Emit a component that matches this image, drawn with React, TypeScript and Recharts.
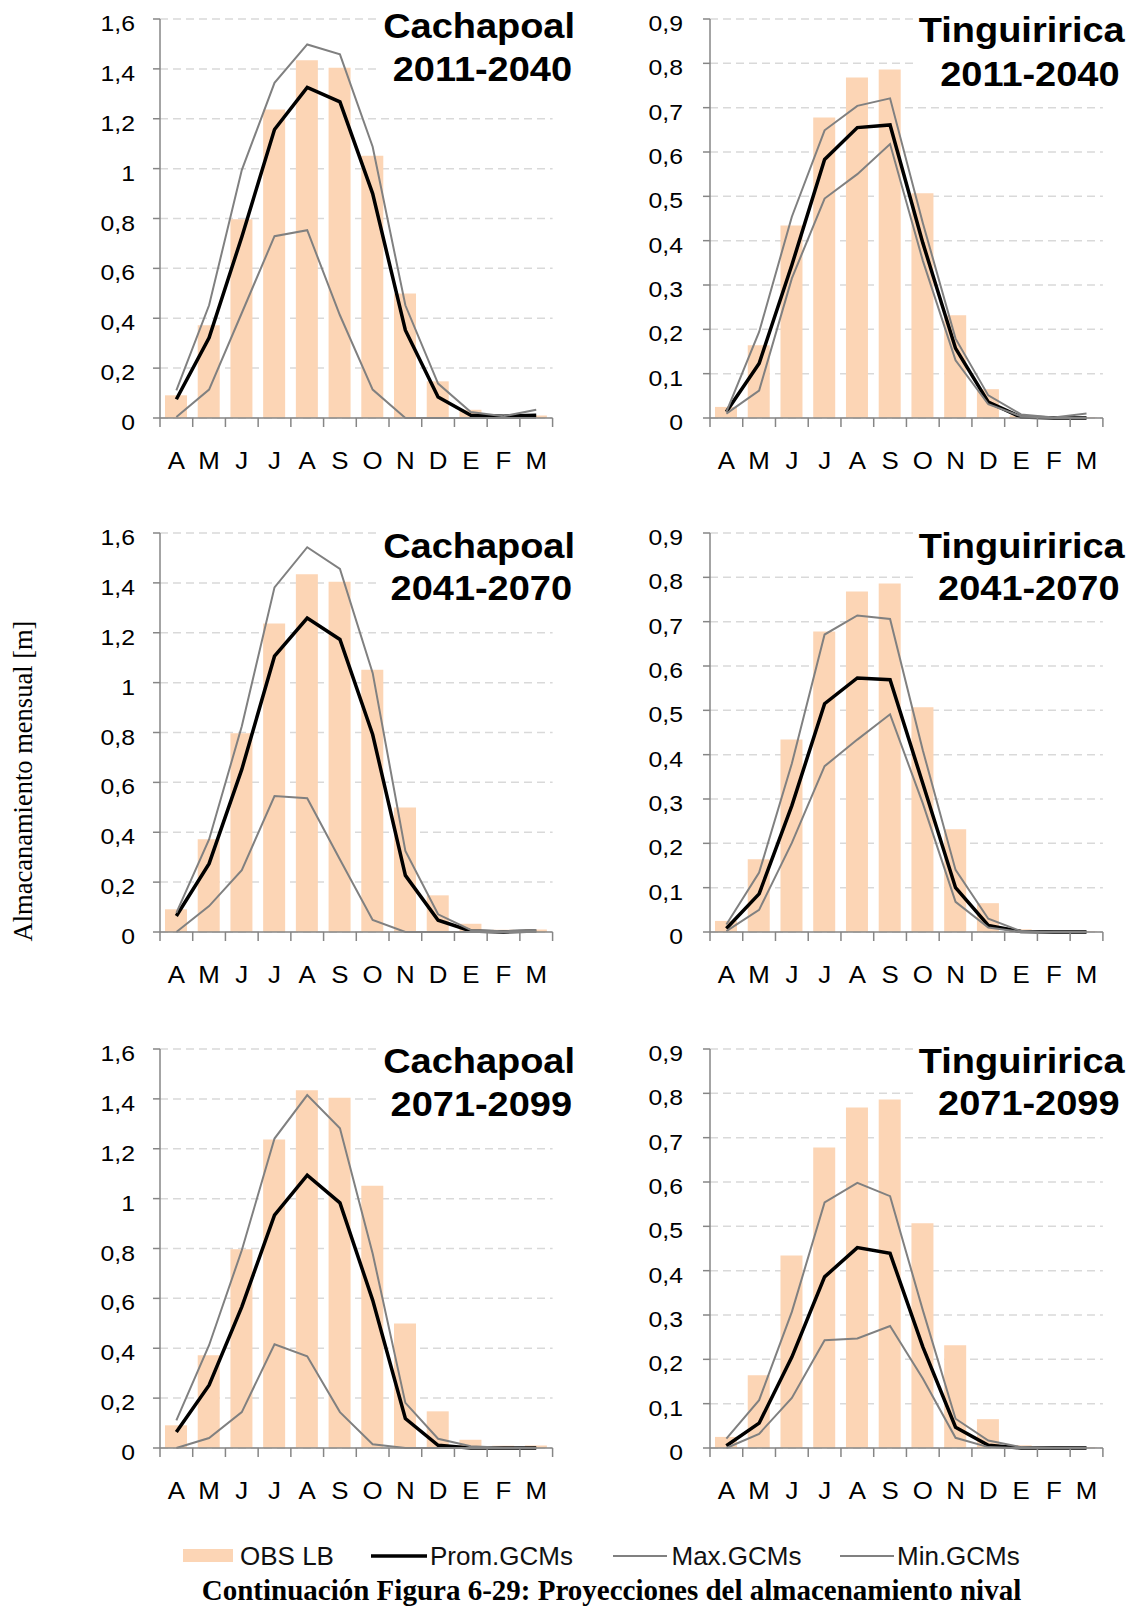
import React from 'react';
import { ComposedChart, Bar, Line, XAxis, YAxis, CartesianGrid } from 'recharts';

// ---------- data ----------
const months = ['A', 'M', 'J', 'J', 'A', 'S', 'O', 'N', 'D', 'E', 'F', 'M'];

const obsCachapoal = [0.091, 0.372, 0.797, 1.237, 1.435, 1.405, 1.052, 0.499, 0.147, 0.033, 0.009, 0.01];
const obsTinguiririca = [0.025, 0.164, 0.434, 0.678, 0.768, 0.786, 0.507, 0.232, 0.065, 0.006, 0.002, 0.001];

const promCach1 = [0.075, 0.322, 0.726, 1.157, 1.326, 1.268, 0.9, 0.352, 0.084, 0.011, 0.007, 0.011];
const maxCach1 = [0.111, 0.452, 0.994, 1.344, 1.498, 1.458, 1.088, 0.452, 0.138, 0.024, 0.007, 0.033];
const minCach1 = [0.004, 0.114, 0.421, 0.729, 0.753, 0.412, 0.114, 0, 0, 0, 0, 0];

const promTing1 = [0.014, 0.123, 0.345, 0.583, 0.655, 0.661, 0.395, 0.157, 0.036, 0.002, 0, 0];
const maxTing1 = [0.014, 0.194, 0.454, 0.649, 0.704, 0.721, 0.44, 0.179, 0.051, 0.008, 0.001, 0.01];
const minTing1 = [0.01, 0.062, 0.315, 0.495, 0.55, 0.618, 0.355, 0.13, 0.031, 0.004, 0, 0];

const promCach2 = [0.064, 0.274, 0.652, 1.106, 1.259, 1.173, 0.792, 0.227, 0.047, 0.004, 0, 0.004];
const maxCach2 = [0.077, 0.371, 0.825, 1.382, 1.543, 1.456, 1.039, 0.325, 0.071, 0.008, 0.003, 0.008];
const minCach2 = [0, 0.104, 0.248, 0.545, 0.536, 0.291, 0.048, 0, 0, 0, 0, 0];

const promTing2 = [0.008, 0.086, 0.285, 0.515, 0.573, 0.569, 0.335, 0.1, 0.015, 0.001, 0, 0];
const maxTing2 = [0.017, 0.134, 0.38, 0.671, 0.714, 0.706, 0.41, 0.14, 0.03, 0.002, 0, 0];
const minTing2 = [0.002, 0.05, 0.201, 0.374, 0.434, 0.491, 0.29, 0.068, 0.01, 0, 0, 0];

const promCach3 = [0.064, 0.252, 0.566, 0.934, 1.094, 0.983, 0.593, 0.118, 0.011, 0, 0, 0];
const maxCach3 = [0.111, 0.412, 0.793, 1.241, 1.415, 1.282, 0.78, 0.181, 0.037, 0.007, 0.001, 0];
const minCach3 = [0, 0.04, 0.144, 0.416, 0.368, 0.144, 0.015, 0, 0, 0, 0, 0];

const promTing3 = [0.005, 0.056, 0.205, 0.386, 0.452, 0.439, 0.228, 0.047, 0.006, 0, 0, 0];
const maxTing3 = [0.021, 0.108, 0.307, 0.554, 0.598, 0.568, 0.311, 0.066, 0.017, 0.002, 0, 0];
const minTing3 = [0, 0.032, 0.113, 0.243, 0.247, 0.275, 0.157, 0.023, 0.002, 0, 0, 0];

const cachTicks = [0, 0.2, 0.4, 0.6, 0.8, 1, 1.2, 1.4, 1.6];
const tingTicks = [0, 0.1, 0.2, 0.3, 0.4, 0.5, 0.6, 0.7, 0.8, 0.9];

const legendLabels = ['OBS LB', 'Prom.GCMs', 'Max.GCMs', 'Min.GCMs'];
const yAxisLabel = 'Almacanamiento mensual [m]';
const caption = 'Continuación Figura 6-29: Proyecciones del almacenamiento nival';

// ---------- style ----------
const FONT = "'Liberation Sans', Arial, sans-serif";
const SERIF = "'Liberation Serif', 'Times New Roman', serif";
const AXIS = '#868686';
const BAR = '#FCD5B5';
const GREY = '#808080';
const SX = 1.1; // horizontal stretch of chart text

const COLS = [
  { axisX: 160, plotW: 392.6, tickMargin: 18, titleEnd: 575, periodEnd: 572, titleW: 192 },
  { axisX: 709.9, plotW: 392.9, tickMargin: 20, titleEnd: 1124.7, periodEnd: 1119.5, titleW: 206 },
];
const ROW_TOPS = [19, 533.3, 1049];
const PLOT_H = 399;
const YW = 80;
const MT = 10;
const MR = 14;
const XH = 60;

type Cfg = {
  title: string; period: string; obs: number[]; prom: number[]; max: number[]; min: number[];
  yMax: number; ticks: number[]; col: number; row: number; b1: number; b2: number;
};

const panels: Cfg[] = [
  { title: 'Cachapoal', period: '2011-2040', obs: obsCachapoal, prom: promCach1, max: maxCach1, min: minCach1, yMax: 1.6, ticks: cachTicks, col: 0, row: 0, b1: 37.5, b2: 81 },
  { title: 'Tinguiririca', period: '2011-2040', obs: obsTinguiririca, prom: promTing1, max: maxTing1, min: minTing1, yMax: 0.9, ticks: tingTicks, col: 1, row: 0, b1: 42, b2: 86 },
  { title: 'Cachapoal', period: '2041-2070', obs: obsCachapoal, prom: promCach2, max: maxCach2, min: minCach2, yMax: 1.6, ticks: cachTicks, col: 0, row: 1, b1: 558, b2: 600 },
  { title: 'Tinguiririca', period: '2041-2070', obs: obsTinguiririca, prom: promTing2, max: maxTing2, min: minTing2, yMax: 0.9, ticks: tingTicks, col: 1, row: 1, b1: 558, b2: 600 },
  { title: 'Cachapoal', period: '2071-2099', obs: obsCachapoal, prom: promCach3, max: maxCach3, min: minCach3, yMax: 1.6, ticks: cachTicks, col: 0, row: 2, b1: 1073, b2: 1116 },
  { title: 'Tinguiririca', period: '2071-2099', obs: obsTinguiririca, prom: promTing3, max: maxTing3, min: minTing3, yMax: 0.9, ticks: tingTicks, col: 1, row: 2, b1: 1073, b2: 1115 },
];

const fmt = (v: number) => (v === 0 ? '0' : String(Number(v.toFixed(1))).replace('.', ','));

function SText(props: { x: number; y: number; anchor: 'start' | 'middle' | 'end'; size: number; bold?: boolean; children: React.ReactNode }) {
  return (
    <text
      transform={`translate(${props.x},${props.y}) scale(${SX},1)`}
      textAnchor={props.anchor}
      fontSize={props.size}
      fontWeight={props.bold ? 'bold' : 'normal'}
      fontFamily={FONT}
      fill="#000"
    >
      {props.children}
    </text>
  );
}

function Panel({ cfg }: { cfg: Cfg }) {
  const col = COLS[cfg.col];
  const bw = col.plotW / 12;
  const data = months.map((m, i) => ({
    k: i, obs: cfg.obs[i], prom: cfg.prom[i], max: cfg.max[i], min: cfg.min[i],
  }));
  const xTick = (p: any) => {
    const { x, y, payload } = p;
    const i = Number(payload.value);
    const tk = (xx: number, key: string) => (
      <line key={key} x1={xx} x2={xx} y1={y} y2={y + 9} stroke={AXIS} strokeWidth={1.5} />
    );
    return (
      <g>
        {tk(x - bw / 2, 'l')}
        {i === 11 ? tk(x + bw / 2, 'r') : null}
        <SText x={x} y={y + 51} anchor="middle" size={23.5}>{months[i]}</SText>
      </g>
    );
  };
  const yTick = (p: any) => (
    <SText x={p.x} y={p.y + 12} anchor="end" size={22.5}>{fmt(Number(p.payload.value))}</SText>
  );
  return (
    <div style={{ position: 'absolute', left: col.axisX - YW, top: ROW_TOPS[cfg.row] - MT }}>
      <ComposedChart
        width={YW + col.plotW + MR}
        height={MT + PLOT_H + XH}
        data={data}
        margin={{ top: MT, right: MR, bottom: 0, left: 0 }}
      >
        <CartesianGrid vertical={false} stroke="#D9D9D9" strokeDasharray="8 5" strokeWidth={1.5} />
        <XAxis
          dataKey="k"
          type="category"
          height={XH}
          interval={0}
          tickSize={0}
          tickMargin={0}
          tickLine={false}
          axisLine={{ stroke: AXIS, strokeWidth: 1.5 }}
          tick={xTick}
        />
        <YAxis
          width={YW}
          domain={[0, cfg.yMax]}
          ticks={cfg.ticks}
          interval={0}
          tickSize={7}
          tickMargin={col.tickMargin}
          tickLine={{ stroke: AXIS, strokeWidth: 1.5 }}
          axisLine={{ stroke: AXIS, strokeWidth: 1.5 }}
          tick={yTick}
        />
        <Bar dataKey="obs" fill={BAR} barSize={22} isAnimationActive={false} />
        <Line type="linear" dataKey="prom" stroke="#000" strokeWidth={3.5} dot={false} isAnimationActive={false} />
        <Line type="linear" dataKey="max" stroke={GREY} strokeWidth={2} dot={false} isAnimationActive={false} />
        <Line type="linear" dataKey="min" stroke={GREY} strokeWidth={2} dot={false} isAnimationActive={false} />
      </ComposedChart>
    </div>
  );
}

export default function App() {
  return (
    <div style={{ position: 'absolute', left: 0, top: 0, width: 1133, height: 1610, background: '#fff', overflow: 'hidden' }}>
      {panels.map((p, i) => (
        <Panel key={i} cfg={p} />
      ))}
      <svg width={1133} height={1610} style={{ position: 'absolute', left: 0, top: 0, pointerEvents: 'none' }}>
        {panels.map((p, i) => {
          const col = COLS[p.col];
          return (
            <g key={i}>
              <rect x={col.titleEnd - col.titleW - 5} y={p.b1 - 27} width={col.titleW + 8} height={p.b2 - p.b1 + 33} fill="#fff" />
              <SText x={col.titleEnd} y={p.b1} anchor="end" size={34.5} bold>{p.title}</SText>
              <SText x={col.periodEnd} y={p.b2} anchor="end" size={34.5} bold>{p.period}</SText>
            </g>
          );
        })}
        <text
          x={32}
          y={781}
          transform="rotate(-90 32 781)"
          textAnchor="middle"
          fontSize={26.5}
          fontFamily={SERIF}
          fill="#000"
        >
          {yAxisLabel}
        </text>
        {/* legend */}
        <rect x={183} y={1549} width={50} height={13} fill={BAR} />
        <text x={240} y={1565} fontSize={26} fontFamily={FONT} fill="#111">{legendLabels[0]}</text>
        <line x1={371} x2={427} y1={1556} y2={1556} stroke="#000" strokeWidth={3.5} />
        <text x={430} y={1565} fontSize={26} fontFamily={FONT} fill="#111">{legendLabels[1]}</text>
        <line x1={613} x2={667} y1={1556} y2={1556} stroke={GREY} strokeWidth={2} />
        <text x={671.5} y={1565} fontSize={26} fontFamily={FONT} fill="#111">{legendLabels[2]}</text>
        <line x1={840} x2={894} y1={1556} y2={1556} stroke={GREY} strokeWidth={2} />
        <text x={897} y={1565} fontSize={26} fontFamily={FONT} fill="#111">{legendLabels[3]}</text>
        <text x={611.5} y={1600} textAnchor="middle" fontSize={29} fontWeight="bold" fontFamily={SERIF} fill="#000">
          {caption}
        </text>
      </svg>
    </div>
  );
}
